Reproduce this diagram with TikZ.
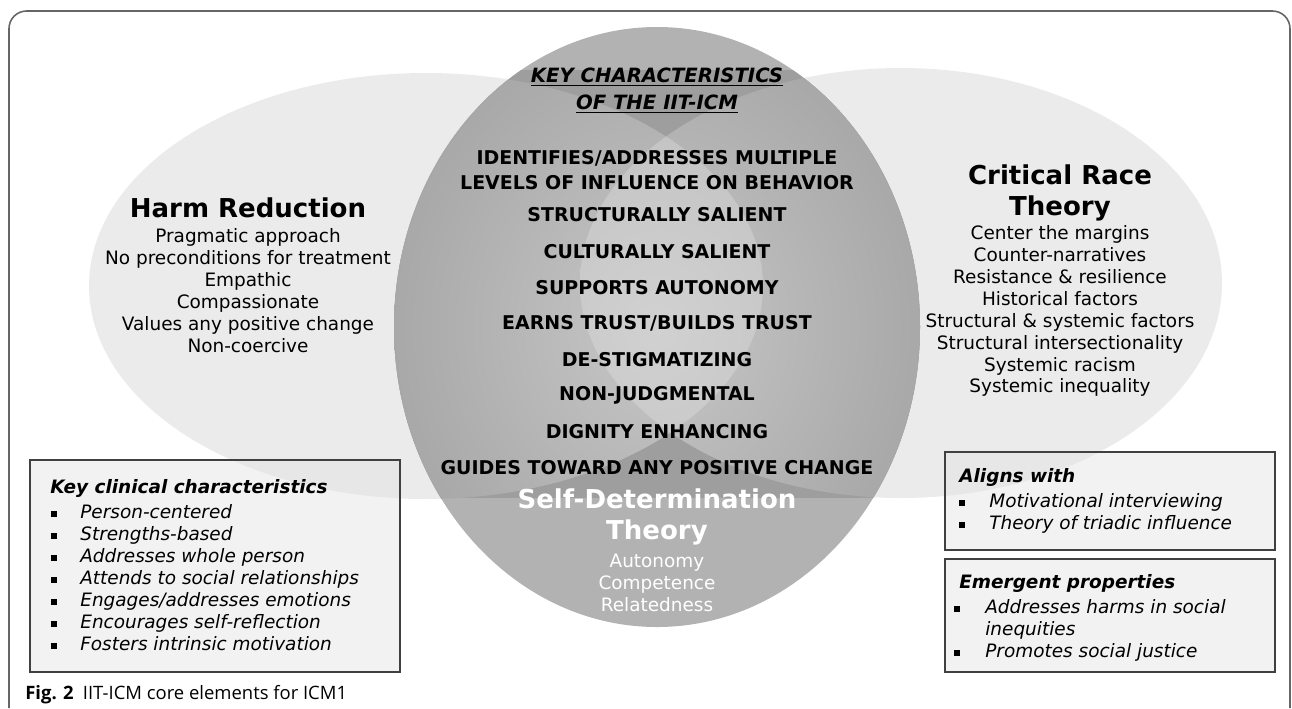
\documentclass[tikz,border=0pt]{standalone}
\usepackage{fontspec}
\setmainfont{DejaVu Sans}
\newfontfamily\captionfont{Open Sans}
\definecolor{sidegray}{gray}{0.92}
\definecolor{capgray}{gray}{0.70}
\definecolor{bandgray}{gray}{0.62}
\definecolor{pairin}{gray}{0.78}
\definecolor{pairout}{gray}{0.66}
\definecolor{lensin}{gray}{0.82}
\definecolor{lensout}{gray}{0.74}
\definecolor{boxgray}{gray}{0.90}
\tikzset{
  theorytitle/.style={font=\fontsize{14.8}{17.2}\selectfont\bfseries, align=center, inner sep=0pt},
  theorylist/.style={font=\fontsize{10.5}{12.5}\selectfont, align=center, inner sep=0pt},
  keyhead/.style={font=\fontsize{11.2}{15.3}\selectfont\bfseries\itshape, align=center, inner sep=0pt},
  keyitem/.style={font=\fontsize{10.8}{14.7}\selectfont\bfseries, align=center, inner sep=0pt},
  boxtitle/.style={font=\fontsize{10.5}{12.5}\selectfont\bfseries\itshape, anchor=west, inner sep=0pt},
  boxitem/.style={font=\fontsize{10.5}{12.5}\selectfont\itshape, anchor=west, inner sep=0pt, text height=7.6pt, text depth=2.2pt},
  sqbullet/.style={fill=black, minimum size=3.4pt, inner sep=0pt},
  infobox/.style={draw=black!75, fill=boxgray, fill opacity=0.5, line width=0.8pt},
}
\begin{document}
\begin{tikzpicture}[x=0.02cm, y=-0.02cm]
\useasboundingbox (0,0) rectangle (1292,708);
\def\hrx{337}	\def\hry{213}
\def\crx{321}	\def\cry{215}
\def\sdx{263}	\def\sdy{300}

\coordinate (HR) at (426,286);
\coordinate (CRT) at (901,283);
\coordinate (SDT) at (657,327);

% frame
\draw[black!60, line width=0.9pt, rounded corners=10] (9,708) -- (9,11) -- (1290,11) -- (1290,708);

\fill[sidegray] (HR) ellipse [x radius=\hrx, y radius=\hry];
\fill[sidegray] (CRT) ellipse [x radius=\crx, y radius=\cry];
\fill[capgray] (SDT) ellipse [x radius=\sdx, y radius=\sdy];
\begin{scope}
\clip (SDT) ellipse [x radius=\sdx, y radius=\sdy];
\fill[bandgray] (0,70) rectangle (1292,498);
\begin{scope}
\clip (HR) ellipse [x radius=\hrx, y radius=\hry];
\shade[inner color=pairin, outer color=pairout] (SDT) ellipse [x radius=\sdx, y radius=\sdy];
\end{scope}
\begin{scope}
\clip (CRT) ellipse [x radius=\crx, y radius=\cry];
\shade[inner color=pairin, outer color=pairout] (SDT) ellipse [x radius=\sdx, y radius=\sdy];
\end{scope}
\clip (HR) ellipse [x radius=\hrx, y radius=\hry];
\clip (CRT) ellipse [x radius=\crx, y radius=\cry];
\shade[inner color=lensin, outer color=lensout] (SDT) ellipse [x radius=\sdx, y radius=\sdy];
\end{scope}

\node[theorytitle] (hrTitle) at (248,208) {Harm Reduction};
\node[theorylist] (hrList) at (248,291) {Pragmatic approach\\No preconditions for treatment\\Empathic\\Compassionate\\Values any positive change\\Non-coercive};

\node[theorytitle] (crtTitle) at (1060,193) {Critical Race\\Theory};
\node[theorylist] (crtList) at (1060,311) {Center the margins\\Counter-narratives\\Resistance \& resilience\\Historical factors\\Structural \& systemic factors\\Structural intersectionality\\Systemic racism\\Systemic inequality};

\node[keyhead] (keyHead) at (657,91) {\underline{KEY CHARACTERISTICS}\\\underline{OF THE IIT-ICM}};
\node[keyitem] (keyLevels) at (657,170) {IDENTIFIES/ADDRESSES MULTIPLE\\LEVELS OF INFLUENCE ON BEHAVIOR};
\foreach \t [count=\i] in {STRUCTURALLY SALIENT, CULTURALLY SALIENT, SUPPORTS AUTONOMY, EARNS TRUST/BUILDS TRUST, DE-STIGMATIZING, NON-JUDGMENTAL, DIGNITY ENHANCING, GUIDES TOWARD ANY POSITIVE CHANGE}
  \node[keyitem] (key\i) at (657,{215+(\i-1)*36.1}) {\t};

\node[theorytitle, text=white] (sdtTitle) at (657,517) {Self-Determination\\Theory};
\node[theorylist, text=white] (sdtList) at (657,583) {Autonomy\\Competence\\Relatedness};

% boxes
\coordinate (kcNW) at (30,460);
\coordinate (kcSE) at (400,672);
\draw[infobox] (kcNW) rectangle (kcSE);
\node[boxtitle] (kcTitle) at (50,488) {Key clinical characteristics};
\foreach \t [count=\i] in {Person-centered, Strengths-based, Addresses whole person, Attends to social relationships, Engages/addresses emotions, Encourages self-reflection, Fosters intrinsic motivation}{
  \node[sqbullet] (kcB\i) at (54,{492+\i*22}) {};
  \node[boxitem] (kcI\i) at (80,{492+\i*22}) {\t};
}

\coordinate (awNW) at (945,452);
\coordinate (awSE) at (1275,550);
\draw[infobox] (awNW) rectangle (awSE);
\node[boxtitle] (awTitle) at (959,477) {Aligns with};
\foreach \t [count=\i] in {Motivational interviewing, Theory of triadic influence}{
  \node[sqbullet] (awB\i) at (962,{481+\i*22}) {};
  \node[boxitem] (awI\i) at (989,{481+\i*22}) {\t};
}

\coordinate (epNW) at (945,559);
\coordinate (epSE) at (1275,672);
\draw[infobox] (epNW) rectangle (epSE);
\node[boxtitle] (epTitle) at (959,583) {Emergent properties};
\node[sqbullet] (epB1) at (957,609) {};
\node[boxitem] (epI1) at (985,609) {Addresses harms in social};
\node[boxitem] (epI1b) at (985,631) {inequities};
\node[sqbullet] (epB2) at (957,653) {};
\node[boxitem] (epI2) at (985,653) {Promotes social justice};

\node[anchor=west, inner sep=0pt, font=\captionfont\fontsize{10.5}{13}\selectfont] (caption) at (25,695) {\textbf{Fig. 2}\enspace IIT-ICM core elements for ICM1};
\end{tikzpicture}
\end{document}
